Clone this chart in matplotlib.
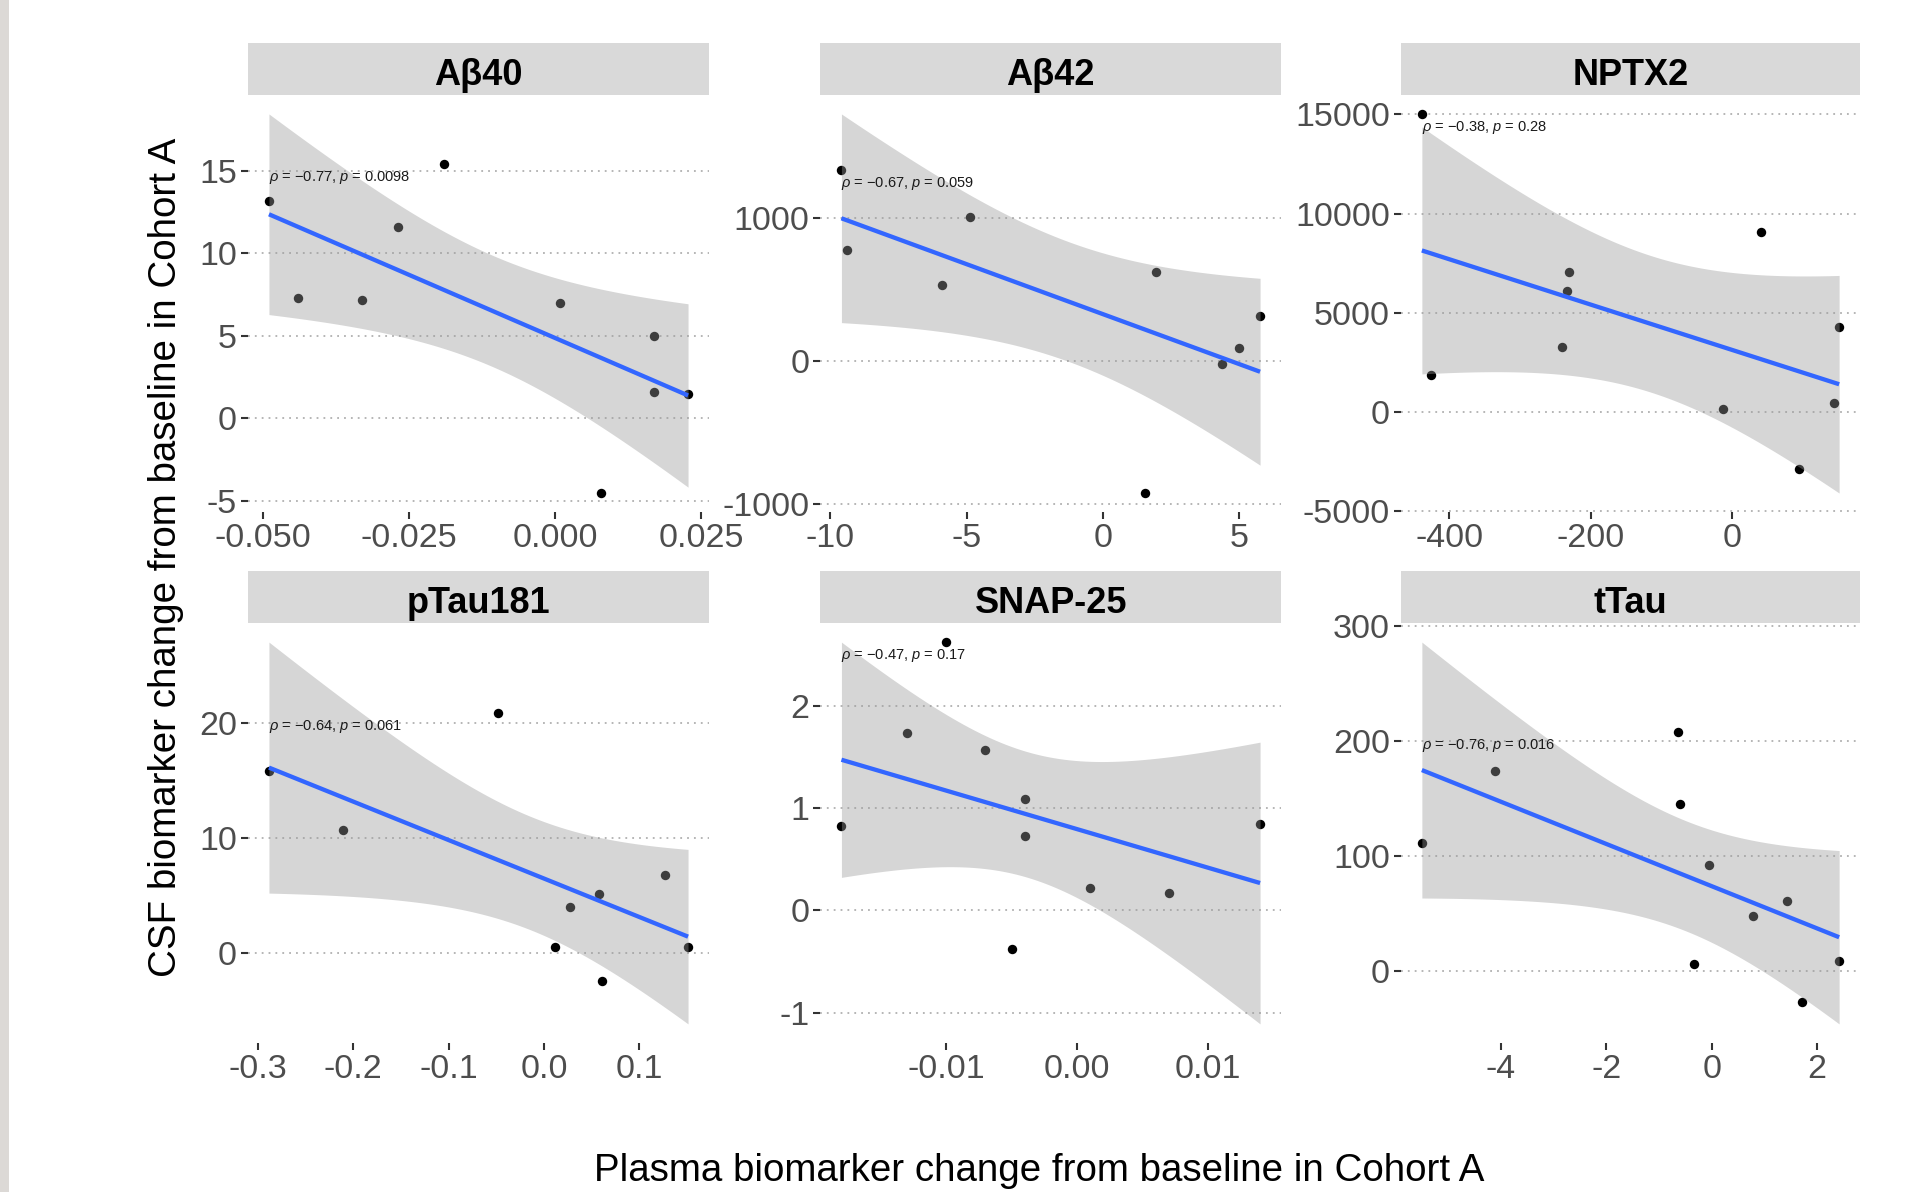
import numpy as np
import matplotlib
matplotlib.use('Agg')
import matplotlib.pyplot as plt
from matplotlib import font_manager
from matplotlib.patches import Rectangle

# ---------------- data ----------------
panel_names = ['Aβ40', 'Aβ42', 'NPTX2', 'pTau181', 'SNAP-25', 'tTau']

ab40_x = [-0.0490, -0.0191, -0.0440, -0.0330, -0.0270, 0.0008, 0.0168, 0.0168, 0.0227, 0.0078]
ab40_y = [13.16, 15.38, 7.29, 7.16, 11.57, 6.97, 4.99, 1.59, 1.46, -4.52]

ab42_x = [-9.59, -9.40, -5.89, -4.88, 1.94, 1.53, 4.35, 4.97, 5.76]
ab42_y = [1331, 773, 526, 1006, 618, -923, -22, 92, 311]

nptx2_x = [-438.7, -426.1, -241.1, -230.2, -233.5, -12.6, 40.8, 94.1, 144.1, 151.2]
nptx2_y = [15025, 1845, 3260, 7056, 6108, 180, 9097, -2848, 482, 4280]

ptau_x = [-0.2885, -0.2113, -0.0485, 0.0115, 0.0274, 0.0583, 0.0612, 0.1272, 0.1512]
ptau_y = [15.89, 10.75, 20.91, 0.56, 4.02, 5.14, -2.40, 6.82, 0.53]

snap_x = [-0.01802, -0.01301, -0.0100, -0.00702, -0.00401, -0.00401, -0.00497, 0.00099, 0.00699, 0.01398]
snap_y = [0.819, 1.729, 2.617, 1.567, 1.088, 0.721, -0.381, 0.220, 0.168, 0.847]

ttau_x = [-5.498, -4.11, -0.634, -0.611, -0.327, -0.044, 0.790, 1.432, 1.716, 2.417]
ttau_y = [110.9, 173.6, 207.9, 144.9, 5.9, 92.2, 48.0, 60.7, -27.1, 8.1]

rho_labels = ['−0.77', '−0.67', '−0.38', '−0.64', '−0.47', '−0.76']
p_labels = ['0.0098', '0.059', '0.28', '0.061', '0.17', '0.016']

x_ticks = [[-0.050, -0.025, 0.000, 0.025], [-10, -5, 0, 5], [-400, -200, 0],
           [-0.3, -0.2, -0.1, 0.0, 0.1], [-0.01, 0.00, 0.01], [-4, -2, 0, 2]]
x_ticklabels = [['-0.050', '-0.025', '0.000', '0.025'], ['-10', '-5', '0', '5'], ['-400', '-200', '0'],
                ['-0.3', '-0.2', '-0.1', '0.0', '0.1'], ['-0.01', '0.00', '0.01'], ['-4', '-2', '0', '2']]
y_ticks = [[-5, 0, 5, 10, 15], [-1000, 0, 1000], [-5000, 0, 5000, 10000, 15000],
           [0, 10, 20], [-1, 0, 1, 2], [0, 100, 200, 300]]
y_ticklabels = [['-5', '0', '5', '10', '15'], ['-1000', '0', '1000'], ['-5000', '0', '5000', '10000', '15000'],
                ['0', '10', '20'], ['-1', '0', '1', '2'], ['0', '100', '200', '300']]

xs_all = [ab40_x, ab42_x, nptx2_x, ptau_x, snap_x, ttau_x]
ys_all = [ab40_y, ab42_y, nptx2_y, ptau_y, snap_y, ttau_y]

x_label = 'Plasma biomarker change from baseline in Cohort A'
y_label = 'CSF biomarker change from baseline in Cohort A'

# ---------------- style ----------------
names = {f.name for f in font_manager.fontManager.ttflist}
base_font = 'Liberation Sans' if 'Liberation Sans' in names else 'DejaVu Sans'
plt.rcParams['font.family'] = [base_font, 'DejaVu Sans']
plt.rcParams['mathtext.fontset'] = 'custom'
plt.rcParams['mathtext.rm'] = base_font
plt.rcParams['mathtext.it'] = base_font + ':italic'

T975 = {7: 2.364624, 8: 2.306004, 9: 2.262157}


def smooth_fit(x, y):
    x = np.asarray(x, float)
    y = np.asarray(y, float)
    n = len(x)
    X = np.column_stack([np.ones(n), x])
    beta, *_ = np.linalg.lstsq(X, y, rcond=None)
    resid = y - X @ beta
    s2 = resid @ resid / (n - 2)
    xs = np.linspace(x.min(), x.max(), 80)
    xm = x.mean()
    sxx = ((x - xm) ** 2).sum()
    se = np.sqrt(s2 * (1.0 / n + (xs - xm) ** 2 / sxx))
    yhat = beta[0] + beta[1] * xs
    t = T975[n - 2]
    return xs, yhat, yhat - t * se, yhat + t * se


W, H = 1906, 1192
fig = plt.figure(figsize=(W / 100, H / 100), dpi=100)
fig.patch.set_facecolor('white')

# left grey edge
fig.add_artist(Rectangle((0, 0), 9 / W, 1, transform=fig.transFigure,
                         facecolor='#DCD9D6', edgecolor='none'))

col_x = [(248, 709), (820.5, 1281), (1401, 1860)]
row_y = [(95, 512), (623, 1043)]
strip_h = 52.5

for i in range(6):
    r, c = divmod(i, 3)
    x0, x1 = col_x[c]
    y0, y1 = row_y[r]
    ax = fig.add_axes([x0 / W, 1 - y1 / H, (x1 - x0) / W, (y1 - y0) / H])
    x = np.asarray(xs_all[i], float)
    y = np.asarray(ys_all[i], float)
    xs, yhat, lo, hi = smooth_fit(x, y)

    ax.scatter(x, y, s=46, color='black', zorder=2, linewidths=0)
    ax.fill_between(xs, lo, hi, color='#999999', alpha=0.4, linewidth=0, zorder=3)
    ax.plot(xs, yhat, color='#3366FF', lw=3.1, zorder=4, solid_capstyle='butt')

    xr = x.max() - x.min()
    ax.set_xlim(x.min() - 0.05 * xr, x.max() + 0.05 * xr)
    ylo = min(y.min(), lo.min())
    yhi = max(y.max(), hi.max())
    yr = yhi - ylo
    ax.set_ylim(ylo - 0.05 * yr, yhi + 0.05 * yr)

    ax.set_xticks(x_ticks[i])
    ax.set_xticklabels(x_ticklabels[i])
    ax.set_yticks(y_ticks[i])
    ax.set_yticklabels(y_ticklabels[i])
    ax.tick_params(axis='both', length=5, width=1.5, color='#333333',
                   labelcolor='#4D4D4D', labelsize=24.5, pad=3)
    for s in ax.spines.values():
        s.set_visible(False)
    ax.set_axisbelow(True)
    ax.yaxis.grid(True, linestyle=(0, (1, 2.8)), color='#B0B0B0', lw=1.3)
    ax.xaxis.grid(False)
    ax.set_facecolor('white')

    ax.annotate(r'$\rho$ = ' + rho_labels[i] + r', $p$ = ' + p_labels[i],
                xy=(x.min(), y.max()), xytext=(0, -5), textcoords='offset pixels',
                ha='left', va='top', fontsize=10.5, color='#1A1A1A', zorder=5)

    # strip
    fig.add_artist(Rectangle((x0 / W, 1 - y0 / H), (x1 - x0) / W, strip_h / H,
                             transform=fig.transFigure, facecolor='#D9D9D9', edgecolor='none'))
    fig.text((x0 + x1) / 2 / W, 1 - (y0 - 10) / H, panel_names[i],
             ha='center', va='baseline', fontsize=26, fontweight='bold', color='black')

fig.text(166.5 / W, 1 - 557 / H, y_label, rotation=90, ha='center', va='center',
         fontsize=27.7, color='black')
fig.text(1038.7 / W, 1 - 1181 / H, x_label, ha='center', va='baseline',
         fontsize=27.7, color='black')

fig.savefig('out.png', dpi=100, facecolor='white')
